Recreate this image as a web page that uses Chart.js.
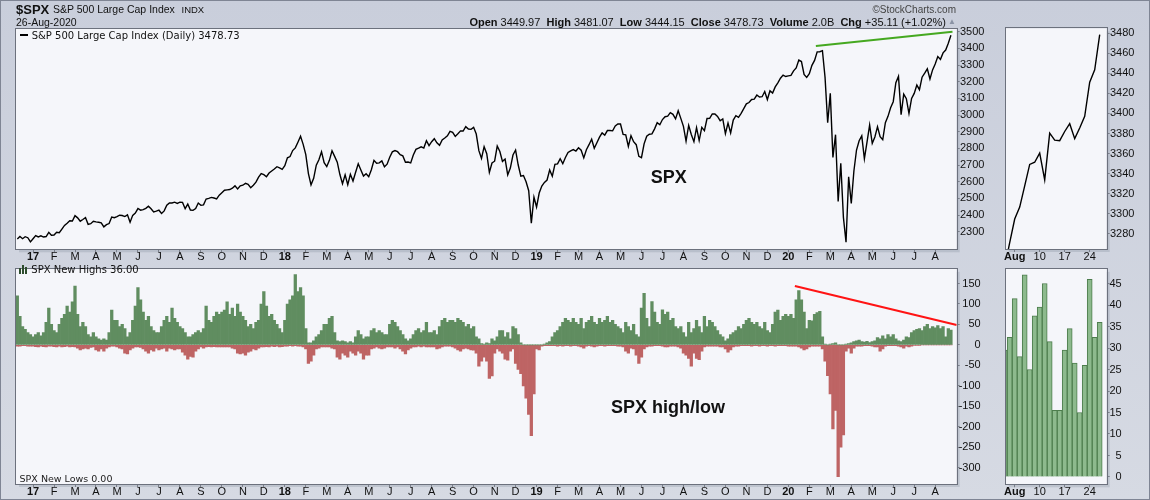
<!DOCTYPE html>
<html><head><meta charset="utf-8">
<script src="https://cdn.jsdelivr.net/npm/chart.js@4.4.1/dist/chart.umd.min.js"></script>
<style>
html,body{margin:0;padding:0;}
body{width:1150px;height:500px;position:relative;overflow:hidden;background:linear-gradient(#c9cedb,#d6dae3);font-family:'Liberation Sans',Arial,sans-serif;}
canvas{position:absolute;}
.t{position:absolute;white-space:nowrap;color:#111;line-height:1;}
.dv{font-family:'DejaVu Sans',Verdana,sans-serif;}
#frameAll{position:absolute;left:0;top:0;width:1148px;height:498px;border:1px solid #7f8594;pointer-events:none;}
</style></head><body>
<canvas id="cPrice" width="1000" height="262" style="left:0;top:0"></canvas>
<canvas id="cZoomPrice" width="150" height="262" style="left:1000px;top:0"></canvas>
<canvas id="cHL" width="1000" height="238" style="left:0;top:262px"></canvas>
<canvas id="cZoomHL" width="150" height="238" style="left:1000px;top:262px"></canvas>

<div class="t" style="left:16px;top:2.6px;font-size:13px;font-weight:bold;">$SPX</div>
<div class="t" style="left:53px;top:4.3px;font-size:10.5px;">S&amp;P 500 Large Cap Index</div>
<div class="t" style="left:181.5px;top:4.5px;font-size:9.5px;">INDX</div>
<div class="t" style="left:16px;top:17px;font-size:10.5px;">26-Aug-2020</div>
<div class="t" style="right:194px;top:5.4px;font-size:10px;color:#444;">&copy;StockCharts.com</div>
<div class="t" style="right:204px;top:16.9px;font-size:11px;"><b>Open</b> 3449.97 &nbsp;<b>High</b> 3481.07 &nbsp;<b>Low</b> 3444.15 &nbsp;<b>Close</b> 3478.73 &nbsp;<b>Volume</b> 2.0B &nbsp;<b>Chg</b> +35.11 (+1.02%)</div>
<div class="t" style="left:948px;top:18px;font-size:8px;color:#8a93a5;">&#9650;</div>

<div style="position:absolute;left:20px;top:34px;width:8px;height:2px;background:#000;"></div>
<div class="t dv" style="left:31.7px;top:31.1px;font-size:10px;">S&amp;P 500 Large Cap Index (Daily) 3478.73</div>

<div style="position:absolute;left:19px;top:268px;width:2px;height:6px;background:#5f8d5f;border:1px solid #2d4d2d;box-sizing:border-box;"></div>
<div style="position:absolute;left:22px;top:265px;width:2px;height:9px;background:#5f8d5f;border:1px solid #2d4d2d;box-sizing:border-box;"></div>
<div style="position:absolute;left:25px;top:267px;width:2px;height:7px;background:#5f8d5f;border:1px solid #2d4d2d;box-sizing:border-box;"></div>
<div class="t dv" style="left:31.3px;top:264.8px;font-size:10px;">SPX New Highs 36.00</div>
<div class="t dv" style="left:19.6px;top:473.9px;font-size:9.5px;color:#222;">SPX New Lows 0.00</div>

<div class="t" style="left:650.7px;top:167.7px;font-size:18px;font-weight:bold;">SPX</div>
<div class="t" style="left:611px;top:397.7px;font-size:18px;font-weight:bold;">SPX high/low</div>
<div id="frameAll"></div>

<script>
// ---------- DATA ----------
// Month tick labels (first entry = partial Dec 2016, not labelled)
const monthLabels = ['Dec','17','F','M','A','M','J','J','A','S','O','N','D',
  '18','F','M','A','M','J','J','A','S','O','N','D',
  '19','F','M','A','M','J','J','A','S','O','N','D',
  '20','F','M','A','M','J','J','A'];
const yearLabels = ['17','18','19','20'];

// S&P 500 closes, ~2 samples per week, one row per month (Dec 2016 .. Aug 2020)
const priceByMonth = [
 [2256, 2271, 2258, 2270, 2264, 2239],
 [2258, 2277, 2269, 2275, 2268, 2271, 2296, 2279],
 [2280, 2297, 2294, 2316, 2338, 2351, 2366, 2364],
 [2396, 2383, 2363, 2373, 2385, 2344, 2348, 2363],
 [2359, 2357, 2353, 2329, 2342, 2349, 2388, 2384],
 [2391, 2399, 2397, 2391, 2401, 2357, 2398, 2412],
 [2439, 2429, 2432, 2440, 2453, 2438, 2419, 2423],
 [2429, 2409, 2425, 2459, 2473, 2472, 2477, 2470],
 [2477, 2476, 2438, 2466, 2430, 2428, 2439, 2472],
 [2458, 2461, 2496, 2500, 2506, 2502, 2497, 2519],
 [2534, 2549, 2551, 2553, 2561, 2575, 2557, 2575],
 [2579, 2590, 2584, 2564, 2579, 2597, 2627, 2648],
 [2642, 2630, 2652, 2664, 2676, 2690, 2683, 2674],
 [2696, 2743, 2751, 2787, 2803, 2837, 2873, 2824],
 [2762, 2649, 2581, 2620, 2699, 2732, 2780, 2714],
 [2691, 2728, 2786, 2752, 2717, 2643, 2588, 2641],
 [2582, 2644, 2604, 2657, 2708, 2670, 2634, 2648],
 [2630, 2672, 2728, 2711, 2713, 2725, 2690, 2705],
 [2747, 2779, 2787, 2780, 2762, 2755, 2717, 2718],
 [2713, 2760, 2794, 2801, 2809, 2802, 2846, 2816],
 [2840, 2858, 2833, 2818, 2850, 2862, 2875, 2902],
 [2896, 2872, 2888, 2905, 2904, 2930, 2916, 2914],
 [2926, 2886, 2786, 2740, 2810, 2768, 2656, 2712],
 [2723, 2814, 2781, 2722, 2736, 2641, 2682, 2760],
 [2790, 2700, 2633, 2637, 2600, 2546, 2351, 2507],
 [2448, 2532, 2574, 2596, 2610, 2671, 2633, 2704],
 [2707, 2738, 2708, 2745, 2775, 2785, 2793, 2784],
 [2804, 2789, 2743, 2792, 2822, 2855, 2801, 2834],
 [2867, 2893, 2879, 2907, 2907, 2905, 2934, 2946],
 [2946, 2884, 2881, 2812, 2876, 2840, 2822, 2752],
 [2744, 2827, 2873, 2885, 2887, 2917, 2954, 2942],
 [2973, 2990, 2993, 3014, 3004, 2977, 3026, 2980],
 [2932, 2844, 2938, 2883, 2840, 2924, 2847, 2926],
 [2906, 2979, 2980, 3007, 3006, 2992, 2966, 2977],
 [2888, 2952, 2893, 2970, 2996, 2986, 3010, 3038],
 [3067, 3075, 3093, 3095, 3120, 3108, 3110, 3141],
 [3093, 3146, 3132, 3169, 3193, 3221, 3240, 3231],
 [3235, 3238, 3265, 3283, 3330, 3321, 3244, 3226],
 [3248, 3298, 3328, 3379, 3380, 3386, 3226, 2954],
 [3130, 2746, 2882, 2481, 2711, 2386, 2237, 2630],
 [2470, 2664, 2790, 2846, 2875, 2737, 2837, 2940],
 [2830, 2868, 2930, 2870, 2852, 2954, 2992, 3044],
 [3080, 3194, 3232, 3002, 3125, 3098, 3009, 3100],
 [3130, 3180, 3152, 3227, 3251, 3277, 3216, 3271],
 [3306, 3351, 3334, 3373, 3390, 3431, 3478.73]
];

// SPX new highs, same sampling
const newHighsByMonth = [
 [120, 70, 45, 38, 30, 25],
 [20, 25, 30, 22, 30, 55, 90, 50],
 [35, 30, 50, 65, 75, 95, 80, 105],
 [144, 75, 45, 55, 45, 25, 20, 30],
 [20, 15, 12, 15, 12, 30, 85, 60],
 [60, 45, 50, 40, 20, 30, 60, 95],
 [140, 110, 80, 60, 70, 45, 35, 30],
 [30, 45, 60, 70, 55, 90, 65, 55],
 [45, 40, 30, 20, 20, 25, 30, 35],
 [30, 40, 95, 60, 55, 70, 80, 75],
 [80, 85, 105, 75, 90, 70, 100, 80],
 [70, 60, 45, 50, 40, 55, 60, 100],
 [130, 95, 70, 75, 60, 50, 40, 30],
 [60, 100, 110, 120, 172, 130, 140, 120],
 [40, 5, 5, 10, 20, 25, 35, 50],
 [50, 65, 70, 30, 10, 8, 10, 8],
 [5, 8, 5, 20, 35, 25, 15, 20],
 [20, 35, 40, 30, 35, 30, 25, 25],
 [50, 60, 55, 45, 35, 25, 15, 10],
 [15, 25, 35, 40, 30, 35, 55, 30],
 [30, 35, 25, 45, 60, 65, 55, 60],
 [60, 55, 65, 60, 55, 45, 50, 40],
 [45, 20, 15, 3, 2, 5, 3, 15],
 [10, 20, 35, 35, 20, 30, 15, 45],
 [40, 25, 5, 0, 0, 0, 0, 0],
 [0, 0, 0, 2, 5, 8, 20, 30],
 [35, 45, 55, 65, 60, 55, 65, 55],
 [50, 65, 40, 55, 60, 70, 55, 50],
 [65, 55, 60, 70, 55, 60, 50, 45],
 [40, 30, 55, 45, 35, 50, 25, 20],
 [90, 126, 65, 45, 106, 80, 55, 50],
 [86, 75, 80, 60, 65, 45, 40, 45],
 [30, 20, 55, 30, 40, 60, 45, 30],
 [70, 45, 60, 55, 45, 35, 25, 20],
 [10, 15, 25, 30, 35, 45, 40, 50],
 [60, 65, 55, 50, 55, 45, 40, 55],
 [35, 30, 50, 80, 85, 60, 70, 75],
 [70, 75, 65, 110, 133, 110, 80, 40],
 [60, 59, 75, 79, 82, 20, 2, 0],
 [2, 3, 5, 0, 0, 0, 2, 3],
 [5, 8, 10, 12, 8, 7, 9, 6],
 [8, 10, 18, 15, 22, 15, 25, 20],
 [25, 15, 10, 8, 12, 20, 18, 30],
 [35, 38, 40, 35, 45, 50, 40, 45],
 [42, 47, 40, 45, 20, 40, 36]
];

// SPX new lows (plotted negative), same sampling
const newLowsByMonth = [
 [-3, -3, -2, -2, -3, -3],
 [-3, -4, -5, -3, -4, -5, -3, -3],
 [-4, -5, -3, -5, -4, -3, -5, -4],
 [-5, -8, -12, -10, -8, -10, -6, -5],
 [-12, -15, -10, -15, -8, -5, -3, -3],
 [-5, -8, -10, -20, -22, -12, -8, -5],
 [-5, -6, -10, -15, -20, -12, -15, -8],
 [-12, -10, -8, -15, -8, -10, -12, -10],
 [-10, -18, -25, -35, -28, -30, -15, -10],
 [-5, -8, -5, -4, -5, -4, -5, -5],
 [-5, -5, -5, -5, -8, -10, -20, -22],
 [-20, -25, -18, -15, -10, -12, -8, -5],
 [-5, -4, -5, -3, -4, -3, -5, -4],
 [-3, -3, -2, -3, -2, -3, -3, -5],
 [-10, -45, -40, -25, -10, -8, -5, -5],
 [-5, -5, -8, -10, -30, -35, -20, -25],
 [-30, -15, -20, -25, -15, -20, -35, -25],
 [-25, -10, -8, -5, -8, -10, -8, -5],
 [-5, -5, -8, -5, -10, -15, -22, -12],
 [-8, -5, -5, -3, -5, -3, -5, -5],
 [-5, -5, -10, -8, -5, -3, -3, -3],
 [-5, -8, -12, -15, -10, -8, -10, -12],
 [-13, -20, -52, -40, -30, -40, -82, -76],
 [-20, -10, -15, -20, -35, -37, -15, -10],
 [-45, -60, -70, -100, -130, -170, -222, -120],
 [-10, -12, -3, -2, -2, -2, -2, -2],
 [-3, -2, -3, -2, -2, -3, -2, -2],
 [-3, -5, -8, -3, -2, -3, -5, -3],
 [-2, -2, -3, -2, -2, -2, -2, -3],
 [-3, -5, -15, -20, -8, -10, -25, -45],
 [-30, -10, -5, -3, -3, -2, -2, -2],
 [-3, -5, -5, -3, -3, -3, -5, -8],
 [-20, -25, -33, -52, -20, -33, -36, -15],
 [-5, -3, -3, -3, -3, -3, -5, -5],
 [-10, -18, -12, -5, -3, -3, -2, -2],
 [-2, -2, -3, -2, -2, -3, -2, -2],
 [-3, -2, -2, -3, -2, -2, -2, -2],
 [-3, -3, -3, -3, -5, -8, -12, -10],
 [-5, -3, -3, -3, -3, -10, -40, -75],
 [-120, -205, -160, -322, -250, -220, -15, -8],
 [-20, -8, -3, -3, -3, -2, -2, -2],
 [-3, -5, -5, -15, -10, -3, -2, -2],
 [-2, -2, -3, -5, -8, -3, -5, -3],
 [-1, -1, -1, 0, 0, 0, 0, 0],
 [0, 0, 0, 0, 0, 0, 0]
];

// Trend lines, in [sample index, value]
const priceTrend = [[304.5, 3414], [356.6, 3500]];
const highsTrend = [[296.5, 144], [358.2, 48.6]];

// Zoomed panels: daily, 30-Jul-2020 .. 26-Aug-2020
const zoomPrice = [3246.22, 3271.12, 3294.61, 3306.51, 3327.77, 3349.16, 3351.28, 3360.47, 3333.69, 3380.35,
                   3373.43, 3372.85, 3381.99, 3389.78, 3374.85, 3385.51, 3397.16, 3431.28, 3443.62, 3478.73];
const zoomHighs = [29.5, 32.5, 41.5, 28, 47, 25, 37.5, 39.5, 45, 31.5,
                   15.5, 15.5, 29.5, 34.5, 26.5, 15, 26, 46, 32.5, 36];
const zoomTickIdx = [2, 7, 12, 17];
const zoomTickLabels = ['Aug', '10', '17', '24'];

// Axis tick values
const priceTicks = [2300, 2400, 2500, 2600, 2700, 2800, 2900, 3000, 3100, 3200, 3300, 3400, 3500];
const hlTicks = [-300, -250, -200, -150, -100, -50, 0, 50, 100, 150];
const zoomPriceTicks = [3280, 3300, 3320, 3340, 3360, 3380, 3400, 3420, 3440, 3460, 3480];
const zoomHighTicks = [0, 5, 10, 15, 20, 25, 30, 35, 40, 45];

// ---------- BUILD ----------
const F = "'Liberation Sans', Arial, sans-serif";
const price = priceByMonth.flat();
const highs = newHighsByMonth.flat();
const lows = newLowsByMonth.flat();
let acc = 0;
const monthStarts = priceByMonth.map(m => { const s = acc; acc += m.length; return s; });
const mainTickVals = monthStarts.slice(1);
const mainTickLabels = monthLabels.slice(1);
const pts = arr => arr.map((v, i) => ({x: i, y: v}));
const pairs = arr => arr.map(p => ({x: p[0], y: p[1]}));

const framePlugin = {
  id: 'frame',
  beforeDraw(c) {
    const {ctx, chartArea: a} = c;
    ctx.save();
    ctx.fillStyle = 'rgba(70,80,100,0.16)';
    ctx.fillRect(a.left + 3, a.top + 3, a.right - a.left, a.bottom - a.top);
    ctx.fillStyle = '#f5f6fa';
    ctx.fillRect(a.left, a.top, a.right - a.left, a.bottom - a.top);
    ctx.restore();
  },
  afterDraw(c) {
    const {ctx, chartArea: a} = c;
    ctx.save();
    ctx.strokeStyle = '#6c717d';
    ctx.lineWidth = 1;
    const l = Math.round(a.left) - 0.5, t = Math.round(a.top) - 0.5;
    const r = Math.round(a.right) + 0.5, b = Math.round(a.bottom) + 0.5;
    ctx.strokeRect(l, t, r - l, b - t);
    ctx.restore();
  }
};

function xAxis(min, max, h, vals, labels, bold) {
  return {
    type: 'linear', min, max, bounds: 'data', offset: false,
    afterFit: s => { s.height = h; },
    afterBuildTicks: s => { s.ticks = vals.map(v => ({value: v})); },
    grid: {drawOnChartArea: false, offset: false, tickLength: 3, color: '#7a7f8a'},
    border: {display: false},
    ticks: {
      autoSkip: false, maxRotation: 0, minRotation: 0, padding: -2, color: '#111',
      callback: (v, i) => labels[i],
      font: ctx => ({family: F, size: 11, weight: (ctx.tick && bold.includes(ctx.tick.label)) ? 'bold' : 'normal'})
    }
  };
}
function yAxis(min, max, vals, align, w) {
  return {
    position: 'right', min, max, bounds: 'data',
    afterFit: s => { s.width = w; },
    afterBuildTicks: s => { s.ticks = vals.map(v => ({value: v})); },
    grid: {drawOnChartArea: false, tickLength: 3, color: '#7a7f8a'},
    border: {display: false},
    ticks: {padding: 0.3, color: '#111', crossAlign: align, font: {family: F, size: 11},
            callback: v => String(v)}
  };
}
const baseOpts = (pad) => ({
  responsive: false, animation: false, events: [],
  layout: {padding: pad, autoPadding: false},
  plugins: {legend: {display: false}, tooltip: {enabled: false}}
});

// Main price panel
new Chart(document.getElementById('cPrice'), {
  type: 'line',
  data: {datasets: [
    {data: pts(price), borderColor: '#000', borderWidth: 1.4, pointRadius: 0, tension: 0},
    {data: pairs(priceTrend), borderColor: '#45a820', borderWidth: 2, pointRadius: 0}
  ]},
  options: Object.assign(baseOpts({left: 16, top: 29, right: 0, bottom: 0}), {
    scales: {
      x: xAxis(-0.5, 358.2, 12.7, mainTickVals, mainTickLabels, yearLabels),
      y: yAxis(2194.4, 3516.2, priceTicks, 'near', 43.3)
    }
  }),
  plugins: [framePlugin]
});

// Zoomed price panel
new Chart(document.getElementById('cZoomPrice'), {
  type: 'line',
  data: {datasets: [
    {data: pts(zoomPrice), borderColor: '#000', borderWidth: 1.4, pointRadius: 0, tension: 0}
  ]},
  options: Object.assign(baseOpts({left: 5.7, top: 28.3, right: 0, bottom: 0}), {
    scales: {
      x: xAxis(0.2, 20.4, 13, zoomTickIdx, zoomTickLabels, ['Aug']),
      y: yAxis(3264.7, 3485, zoomPriceTicks, 'near', 43.3)
    }
  }),
  plugins: [framePlugin]
});

// Main highs/lows histogram
new Chart(document.getElementById('cHL'), {
  type: 'bar',
  data: {datasets: [
    {type: 'bar', data: pts(highs), backgroundColor: '#608d60', borderWidth: 0, barPercentage: 1, categoryPercentage: 1, grouped: false},
    {type: 'bar', data: pts(lows), backgroundColor: '#be6464', borderWidth: 0, barPercentage: 1, categoryPercentage: 1, grouped: false},
    {type: 'line', data: pairs(highsTrend), borderColor: '#ff1414', borderWidth: 2.2, pointRadius: 0}
  ]},
  options: Object.assign(baseOpts({left: 16, top: 1.3, right: 19.3, bottom: 0}), {
    scales: {
      x: xAxis(-0.5, 358.2, 16, mainTickVals, mainTickLabels, yearLabels),
      y: yAxis(-339.8, 185.7, hlTicks, 'far', 24)
    }
  }),
  plugins: [framePlugin]
});

// Zoomed highs panel
new Chart(document.getElementById('cZoomHL'), {
  type: 'bar',
  data: {datasets: [
    {data: pts(zoomHighs), backgroundColor: '#8dba8d', borderColor: '#4d7d4d', borderWidth: 1, barPercentage: 1, categoryPercentage: 1}
  ]},
  options: Object.assign(baseOpts({left: 5.7, top: 1.3, right: 28.3, bottom: 0}), {
    scales: {
      x: xAxis(0.2, 20.4, 15.7, zoomTickIdx, zoomTickLabels, ['Aug']),
      y: yAxis(-1.7, 48.4, zoomHighTicks, 'far', 15)
    }
  }),
  plugins: [framePlugin]
});
</script>
</body></html>
